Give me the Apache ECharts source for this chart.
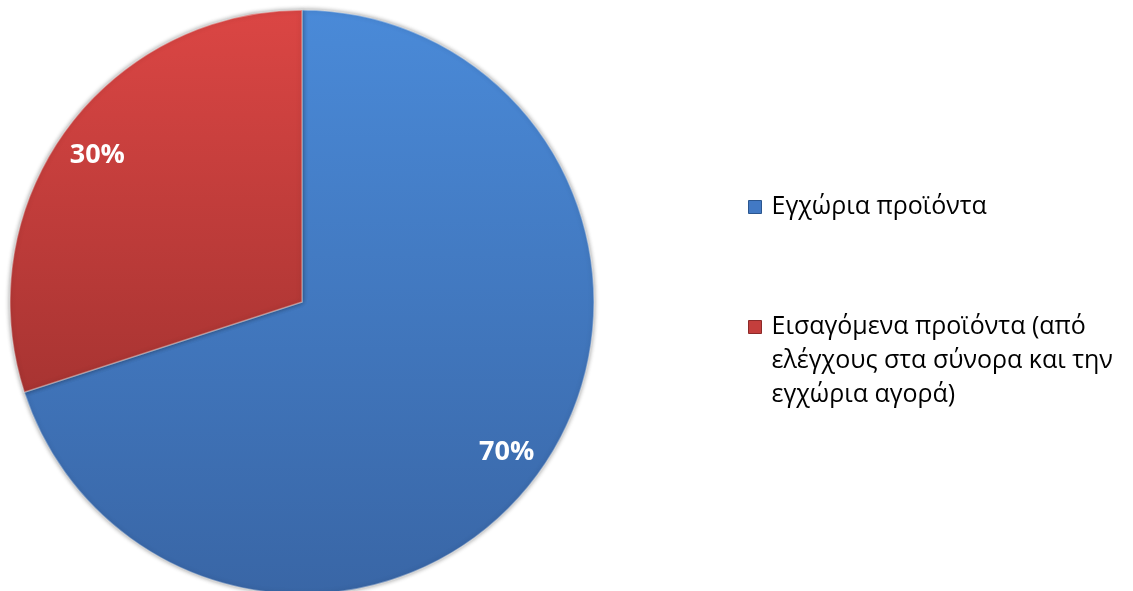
<!DOCTYPE html>
<html><head><meta charset="utf-8">
<script src="https://cdn.jsdelivr.net/npm/echarts@6/dist/echarts.min.js"></script>
<style>html,body{margin:0;padding:0;background:#fff}#c{width:1133px;height:591px}</style>
</head><body><div id="c"></div>
<script>
const categories = ['Εγχώρια προϊόντα', 'Εισαγόμενα προϊόντα (από ελέγχους στα σύνορα και την εγχώρια αγορά)'];
const legendLines = [['Εγχώρια προϊόντα'], ['Εισαγόμενα προϊόντα (από', 'ελέγχους στα σύνορα και την', 'εγχώρια αγορά)']];
const values = [70, 30];
const labels = ['70%', '30%'];

const grads = [
  ['#4a8ad8', '#3966a6'],
  ['#db4644', '#a83432']
];
const chart = echarts.init(document.getElementById('c'));
const mkGrad = g => new echarts.graphic.LinearGradient(0, 0, 0, 1, [{offset: 0, color: g[0]}, {offset: 1, color: g[1]}]);
const solid = ['#4279c4', '#c43e3c'];
// pad multi-line legend entries with leading blank lines so the icon sits on the first line
const fmt = name => {
  const lines = legendLines[categories.indexOf(name)];
  const pad = Array(lines.length - 1).fill(' ');
  return pad.concat(lines).join('\n');
};

chart.setOption({
  animation: false,
  legend: [{
    orient: 'vertical', left: 748, top: 190, padding: 0,
    itemWidth: 13, itemHeight: 13, icon: 'rect', formatter: fmt,
    textStyle: {fontFamily: 'Open Sans', fontSize: 25, color: '#000', lineHeight: 34, padding: [0, 0, 0, 5]},
    data: [{name: categories[0], itemStyle: {color: solid[0], borderColor: '#2b568f', borderWidth: 1}}]
  }, {
    orient: 'vertical', left: 748, top: 242, padding: 0,
    itemWidth: 13, itemHeight: 13, icon: 'rect', formatter: fmt,
    textStyle: {fontFamily: 'Open Sans', fontSize: 25, color: '#000', lineHeight: 34, padding: [0, 0, 0, 5]},
    data: [{name: categories[1], itemStyle: {color: solid[1], borderColor: '#8c2a29', borderWidth: 1}}]
  }],
  series: [{
    type: 'pie',
    center: [302, 302],
    radius: [0, 292],
    startAngle: 90,
    clockwise: true,
    label: {show: false},
    labelLine: {show: false},
    itemStyle: {borderColor: 'rgba(255,255,255,0.35)', borderWidth: 1.5, shadowBlur: 5, shadowColor: 'rgba(0,0,0,0.45)'},
    data: categories.map((n, i) => ({name: n, value: values[i], itemStyle: {color: mkGrad(grads[i])}})),
    emphasis: {disabled: true}
  }, {
    type: 'pie',
    center: [302, 302],
    radius: [0, 500],
    startAngle: 90,
    clockwise: true,
    silent: true,
    legendHoverLink: false,
    itemStyle: {color: 'rgba(0,0,0,0)', borderWidth: 0},
    label: {show: true, position: 'inside', offset: [0, 2], formatter: p => labels[p.dataIndex], color: '#fff', fontFamily: 'Open Sans', fontWeight: 'bold', fontSize: 27},
    labelLine: {show: false},
    data: categories.map((n, i) => ({name: n, value: values[i]})),
    emphasis: {disabled: true}
  }]
});
</script></body></html>
